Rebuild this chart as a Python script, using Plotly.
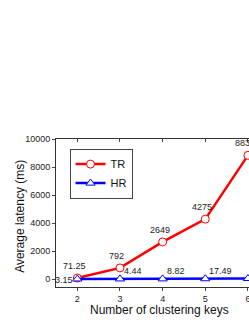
import plotly.graph_objects as go

keys = [2, 3, 4, 5, 6]
tr_latency = [71.25, 792, 2649, 4275, 8833]
hr_latency = [3.15, 4.44, 8.82, 17.49, 35.02]
tr_labels = ["71.25", "792", "2649", "4275", "8833"]
hr_labels = ["3.15", "4.44", "8.82", "17.49", "35.02"]
y_ticks = [0, 2000, 4000, 6000, 8000, 10000]

FONT = "Liberation Sans, Arial, sans-serif"

fig = go.Figure()
fig.add_trace(go.Scatter(
    x=keys, y=tr_latency, name="TR", mode="lines+markers",
    line=dict(color="#ff0000", width=2.5),
    marker=dict(symbol="circle", size=8, color="white", line=dict(color="#ff0000", width=1)),
    cliponaxis=False,
))
fig.add_trace(go.Scatter(
    x=keys, y=hr_latency, name="HR", mode="lines+markers",
    line=dict(color="#0000ff", width=2.5),
    marker=dict(symbol="triangle-up", size=8, color="white", line=dict(color="#0000ff", width=1)),
    cliponaxis=False,
))

anns = []
for x, y, t in zip(keys, tr_latency, tr_labels):
    anns.append(dict(x=x, y=y, text=t, showarrow=False, xanchor="center", yanchor="bottom",
                     xshift=-3, yshift=5, font=dict(size=9, color="#222", family=FONT)))
for i, (x, y, t) in enumerate(zip(keys, hr_latency, hr_labels)):
    if i == 0:
        anns.append(dict(x=x, y=y, text=t, showarrow=False, xanchor="right", yanchor="middle",
                         xshift=-2, yshift=-1, font=dict(size=9, color="#222", family=FONT)))
    else:
        anns.append(dict(x=x, y=y, text=t, showarrow=False, xanchor="left", yanchor="bottom",
                         xshift=2, yshift=1, font=dict(size=9, color="#222", family=FONT)))

anns.append(dict(text="Number of clustering keys", xref="paper", yref="paper", x=0.535, y=-0.155,
                 xanchor="center", yanchor="middle", showarrow=False,
                 font=dict(size=12, color="#111", family=FONT)))
anns.append(dict(text="Average latency (ms)", xref="paper", yref="paper", x=-0.187, y=0.48,
                 xanchor="center", yanchor="middle", showarrow=False, textangle=-90,
                 font=dict(size=12, color="#111", family=FONT)))

fig.update_layout(
    width=249, height=323,
    margin=dict(l=56, r=0, t=139, b=36),
    plot_bgcolor="white", paper_bgcolor="white",
    font=dict(family=FONT, color="#222", size=9),
    showlegend=True,
    legend=dict(x=0.07, y=0.935, xanchor="left", yanchor="top",
                bgcolor="white", bordercolor="#444", borderwidth=1,
                font=dict(size=11, family=FONT, color="#111"),
                tracegroupgap=0, itemwidth=30),
    annotations=anns,
    xaxis=dict(range=[1.5, 6.025], tickvals=keys, ticks="outside", ticklen=3, automargin=False,
               ticklabeloverflow="allow",
               showline=True, linecolor="#333", linewidth=1, showgrid=False, zeroline=False,
               tickfont=dict(size=9)),
    xaxis2=dict(range=[1.5, 6.025], overlaying="x", side="top", matches="x", tickvals=keys,
                ticks="inside", ticklen=3, showticklabels=False, showline=True, automargin=False,
                linecolor="#333", linewidth=1, showgrid=False, zeroline=False),
    yaxis=dict(range=[-571, 10000], tickvals=y_ticks, tickformat="d", ticks="outside", ticklen=3,
               automargin=False, showline=True, linecolor="#333", linewidth=1, showgrid=False,
               zeroline=False, tickfont=dict(size=9)),
)
fig.add_trace(go.Scatter(x=[keys[0]], y=[y_ticks[0]], xaxis="x2", mode="markers",
                         marker=dict(opacity=0), showlegend=False, hoverinfo="skip"))

fig.write_html("out.html", config={"displayModeBar": False},
               post_script="document.body.style.margin='0';document.body.style.overflow='hidden';")
